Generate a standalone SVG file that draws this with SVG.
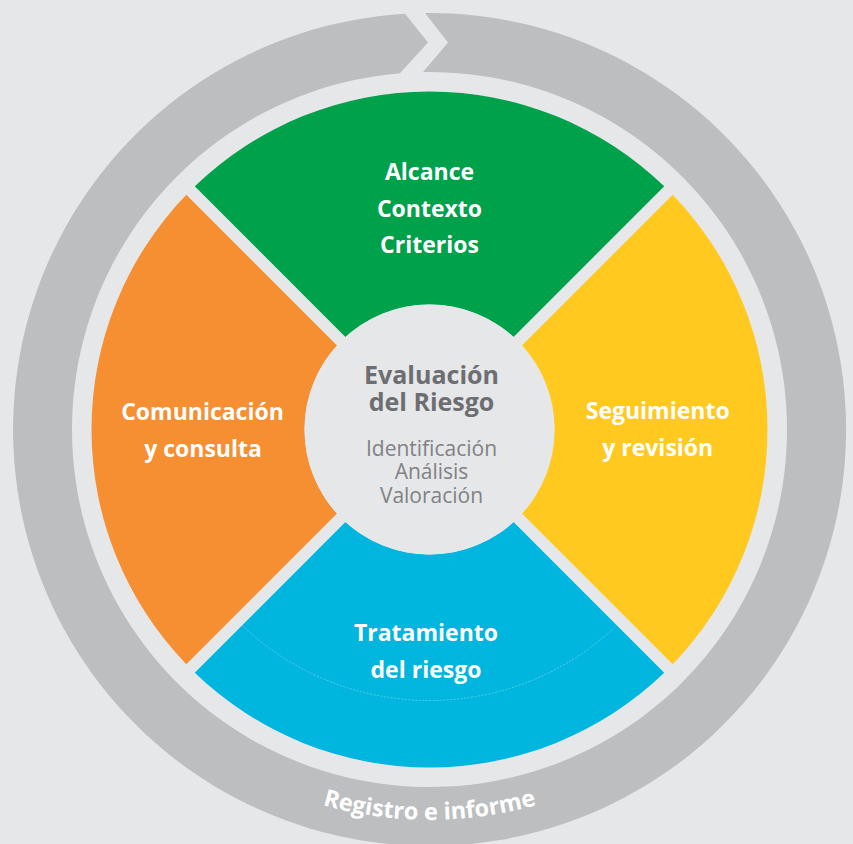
<svg xmlns="http://www.w3.org/2000/svg" width="853" height="844" viewBox="0 0 853 844">
  <style>
    .lbl { font-family: "Open Sans", "Liberation Sans", sans-serif; font-weight: 700; font-size: 23px; fill: #ffffff; text-anchor: middle; }
    .head { font-family: "Open Sans", "Liberation Sans", sans-serif; font-weight: 700; font-size: 25px; fill: #6d6e71; text-anchor: middle; }
    .sub { font-family: "Open Sans", "Liberation Sans", sans-serif; font-weight: 400; font-size: 21px; fill: #808285; text-anchor: middle; }
    .ring-lbl { font-family: "Open Sans", "Liberation Sans", sans-serif; font-weight: 700; font-size: 23.5px; fill: #ffffff; }
  </style>
  <defs>
    <path id="ringTextPath" d="M 39 429.5 A 390.5 390.5 0 0 0 820 429.5"/>
  </defs>
  <rect x="0" y="0" width="853" height="844" fill="#e6e7e8"/>

  <g id="connectors">
    <path id="cycle-ring" d="M 425 13.02 A 416.5 416.5 0 1 1 405 13.72 L 428 42.5 L 400 73.22 A 357.5 357.5 0 1 0 423 72.06 L 448 42.5 Z" fill="#bcbec0"/>
    <text class="ring-lbl"><textPath href="#ringTextPath" startOffset="50%" text-anchor="middle">Registro e informe</textPath></text>
  </g>

  <g id="alcance">
    <path d="M 194.78 186.30 A 338 338 0 0 1 664.22 186.30 L 513.54 336.97 A 125 125 0 0 0 345.46 336.97 Z" fill="#00a14b"/>
    <text class="lbl" x="429.5" y="180">Alcance</text>
    <text class="lbl" x="429.5" y="217">Contexto</text>
    <text class="lbl" x="429.5" y="253">Criterios</text>
  </g>

  <g id="seguimiento">
    <path d="M 672.70 194.78 A 338 338 0 0 1 672.70 664.22 L 522.03 513.54 A 125 125 0 0 0 522.03 345.46 Z" fill="#ffc91f"/>
    <text class="lbl" x="657.7" y="419">Seguimiento</text>
    <text class="lbl" x="657.7" y="456">y revisión</text>
  </g>

  <g id="tratamiento">
    <path d="M 664.22 672.70 A 338 338 0 0 1 194.78 672.70 L 345.46 522.03 A 125 125 0 0 0 513.54 522.03 Z" fill="#00b6de"/>
    <path d="M 242.16 625.32 A 271 271 0 0 0 616.84 625.32" fill="none" stroke="#6fd0ea" stroke-width="0.8" stroke-dasharray="2 1.5"/>
    <text class="lbl" x="426" y="641">Tratamiento</text>
    <text class="lbl" x="426" y="678">del riesgo</text>
  </g>

  <g id="comunicacion">
    <path d="M 186.30 664.22 A 338 338 0 0 1 186.30 194.78 L 336.97 345.46 A 125 125 0 0 0 336.97 513.54 Z" fill="#f68e32"/>
    <text class="lbl" x="202.5" y="419.5">Comunicación</text>
    <text class="lbl" x="203" y="457">y consulta</text>
  </g>

  <g id="evaluacion">
    <circle cx="429.5" cy="429.5" r="125" fill="#e6e7e8"/>
    <text class="head" x="431.5" y="384">Evaluación</text>
    <text class="head" x="431.5" y="410.5">del Riesgo</text>
    <text class="sub" x="431.5" y="455.5">Identificación</text>
    <text class="sub" x="431.5" y="479">Análisis</text>
    <text class="sub" x="431.5" y="502.5">Valoración</text>
  </g>
</svg>
